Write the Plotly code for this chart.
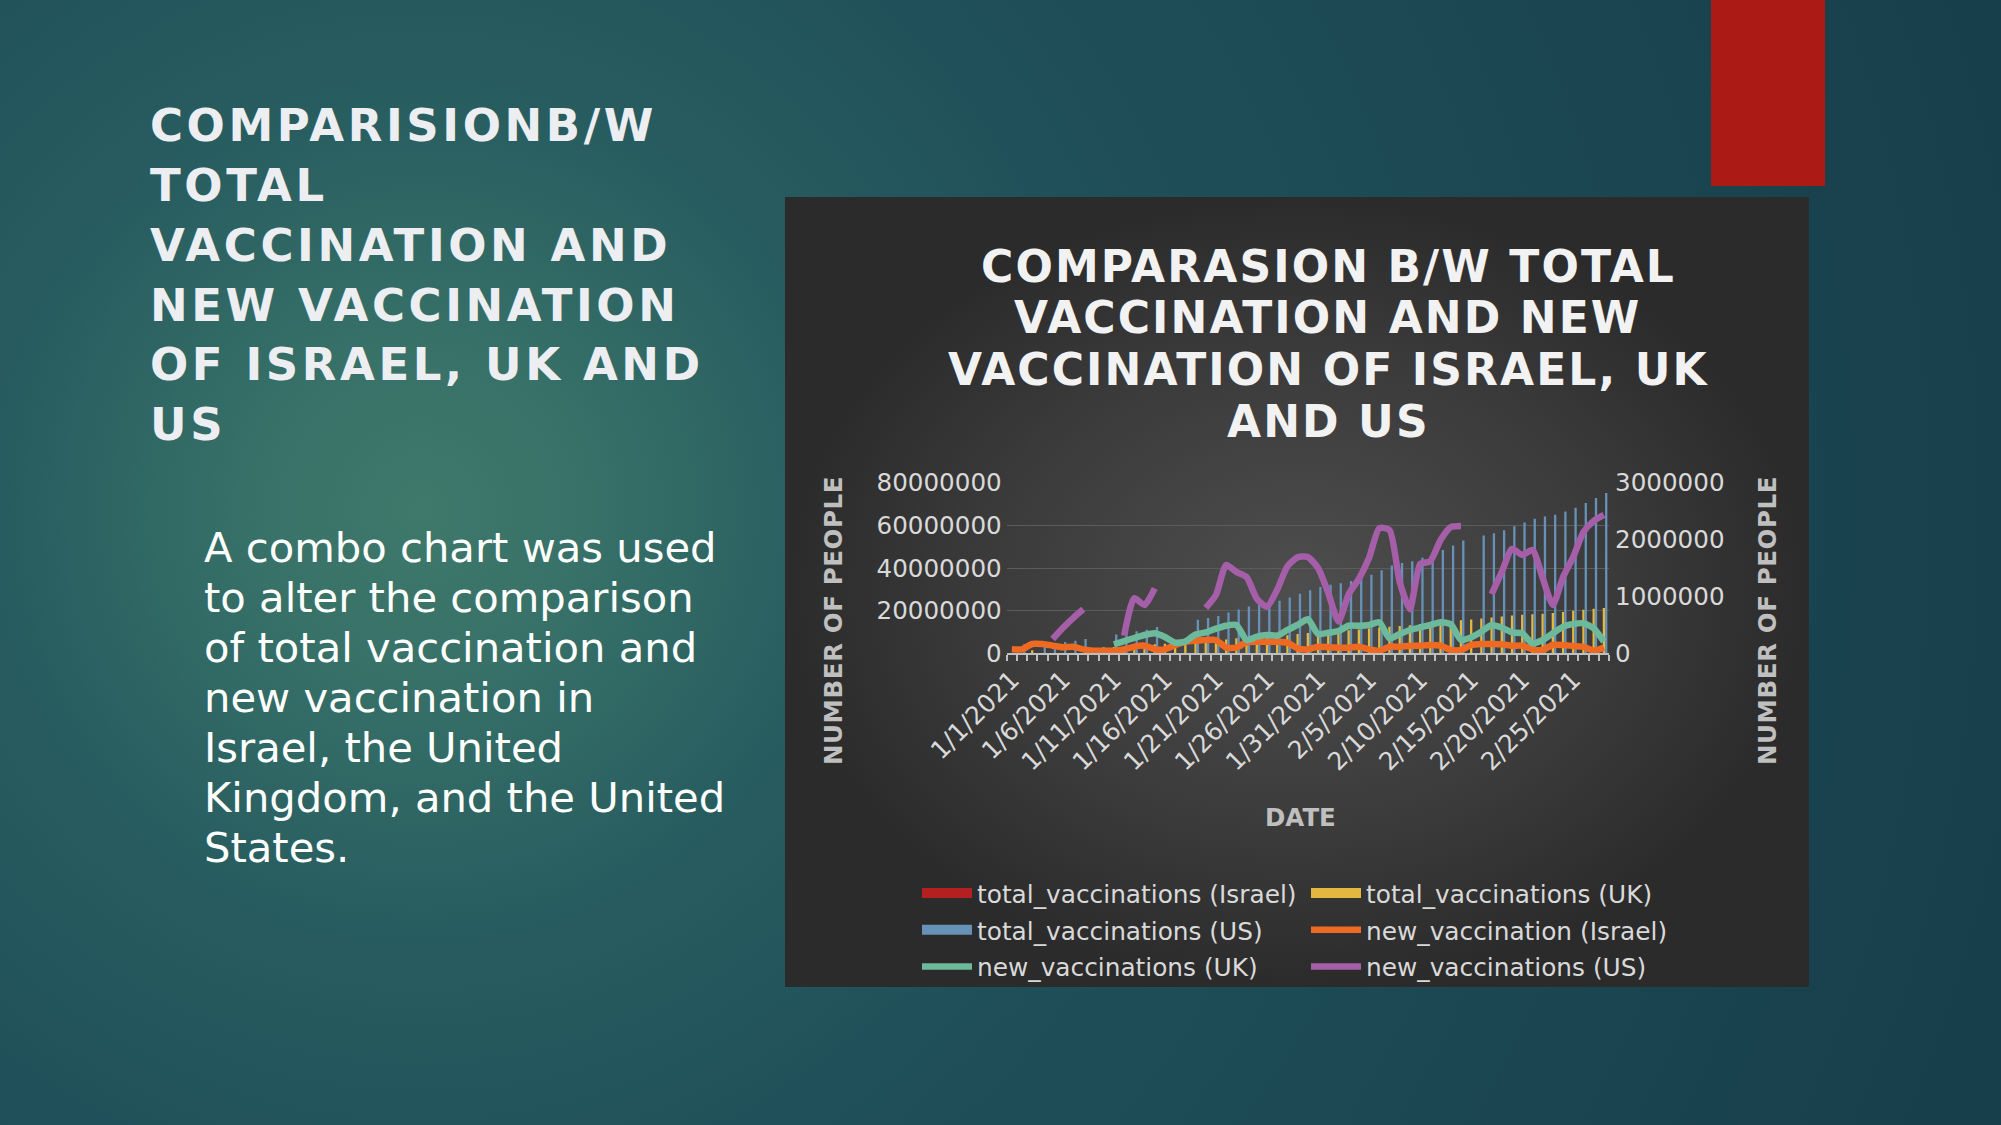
import plotly.graph_objects as go

# ---------------- data ----------------
dates = [f"1/{d}/2021" for d in range(1, 32)] + [f"2/{d}/2021" for d in range(1, 29)]

israel_total = [None] * 59

uk_total = [None, None, 1400000, None, None, None, None, None, None, 2800000,
            3000000, 3200000, 3500000, 3800000, 4200000, 4500000, 4700000, 4900000, 5200000, 5600000,
            6000000, 6500000, 7000000, 7200000, 7500000, 7800000, 8100000, 8500000, 9000000, 9500000,
            9800000, 10100000, 10400000, 10800000, 11200000, 11600000, 12100000, 12400000, 12800000, 13200000,
            13700000, 14200000, 14700000, 15200000, 15500000, 15900000, 16300000, 16800000, 17300000, 17700000,
            18100000, 18300000, 18600000, 18900000, 19400000, 19900000, 20400000, 20900000, 21200000]

us_total = [None, 4200000, None, 4600000, 4800000, 5300000, 5900000, 6700000, None, None,
            8800000, 9300000, 10300000, 11100000, 12300000, None, None, None, 15700000, 16500000,
            17500000, 19100000, 20500000, 21900000, 22700000, 23500000, 24700000, 26200000, 27900000, 29600000,
            31100000, 32200000, 32800000, 33900000, 35200000, 36800000, 39000000, 41200000, 42400000, 43200000,
            44800000, 46400000, 48400000, 50600000, 52900000, None, 55200000, 56300000, 57700000, 59600000,
            61300000, 63100000, 64200000, 65000000, 66500000, 68300000, 70500000, 72800000, 75200000]

israel_new = [70000, 70000, 164000, 164000, 134000, 106000, 116000, 70000, 46000, 46000,
              46000, 70000, 116000, 134000, 70000, 70000, 146000, 204000, 222000, 234000,
              234000, 100000, 100000, 195000, 204000, 204000, 204000, 186000, 88000, 70000,
              116000, 106000, 99000, 99000, 116000, 70000, 46000, 116000, 116000, 134000,
              134000, 146000, 134000, 58000, 58000, 146000, 164000, 164000, 158000, 134000,
              134000, 70000, 58000, 146000, 146000, 128000, 116000, 46000, 100000]

uk_new = [None, None, None, None, None, None, None, None, None, None,
          158000, 216000, 269000, 322000, 352000, 287000, 186000, 208000, 331000, 369000,
          433000, 485000, 498000, 234000, 292000, 322000, 310000, 410000, 498000, 598000,
          339000, 362000, 392000, 485000, 485000, 498000, 545000, 264000, 339000, 410000,
          457000, 498000, 545000, 510000, 234000, 281000, 380000, 498000, 450000, 369000,
          352000, 176000, 234000, 352000, 468000, 515000, 528000, 440000, 204000]

us_new = [None, None, None, None, 251000, 445000, 620000, 774000, None, None,
          None, 310000, 967000, 850000, 1143000, None, None, None, None, 800000,
          1025000, 1553000, 1430000, 1340000, 960000, 820000, 1120000, 1530000, 1690000, 1695000,
          1500000, 1060000, 560000, 1040000, 1310000, 1680000, 2199000, 2169000, 1250000, 775000,
          1570000, 1620000, 1993000, 2220000, 2239000, None, None, 1040000, 1430000, 1835000,
          1730000, 1817000, 1325000, 850000, 1342000, 1694000, 2134000, 2327000, 2433000]

left_ticks = [0, 20000000, 40000000, 60000000, 80000000]
right_ticks = [0, 1000000, 2000000, 3000000]

slide_title = ["COMPARISIONB/W", "TOTAL", "VACCINATION AND", "NEW VACCINATION",
               "OF ISRAEL, UK AND", "US"]
body_lines = ["A combo chart was used", "to alter the comparison", "of total vaccination and",
              "new vaccination in", "Israel, the United", "Kingdom, and the United", "States."]
chart_title = ["COMPARASION B/W TOTAL", "VACCINATION AND NEW", "VACCINATION OF ISRAEL, UK",
               "AND US"]

FONT = "DejaVu Sans"
W, H = 2001, 1125

fig = go.Figure()


def box(x0, y0, x1, y1):
    return [x0, x1, x1, x0, x0], [y0, y0, y1, y1, y0]


# ---------------- slide decoration (background subplot, pixel coords) ----------------
bx, by = box(421 - 1650, 510 - 1650, 421 + 1650, 510 + 1650)
fig.add_trace(go.Scatter(x=bx, y=by, mode="lines", line=dict(width=0), fill="toself",
                         fillgradient=dict(type="radial",
                                           colorscale=[[0, "#3F796B"], [0.1, "#377168"], [0.25, "#285D60"],
                                                       [0.45, "#1F4F59"], [1, "#173E4B"]]),
                         hoverinfo="skip", showlegend=False, xaxis="x", yaxis="y"))
px_, py_ = box(785, 197, 1809, 987)
fig.add_trace(go.Scatter(x=px_, y=py_, mode="lines", line=dict(width=0), fill="toself",
                         fillgradient=dict(type="radial",
                                           colorscale=[[0, "#4E4E4E"], [0.6, "#3B3B3B"], [1, "#2B2B2B"]]),
                         hoverinfo="skip", showlegend=False, xaxis="x", yaxis="y"))
rx, ry = box(1711, 0, 1825, 186)
fig.add_trace(go.Scatter(x=rx, y=ry, mode="lines", line=dict(width=0), fill="toself",
                         fillcolor="#AC1A16", hoverinfo="skip", showlegend=False, xaxis="x", yaxis="y"))

# ---------------- chart ----------------
bar_specs = [
    ("total_vaccinations (Israel)", israel_total, "#B3201F", "legend"),
    ("total_vaccinations (UK)", uk_total, "#E2B93E", "legend2"),
    ("total_vaccinations (US)", us_total, "#6791B6", "legend"),
]
for name, vals, col, lg in bar_specs:
    fig.add_trace(go.Bar(x=dates, y=vals, name=name, marker=dict(color=col, line=dict(width=0)),
                         xaxis="x2", yaxis="y2", showlegend=False, legendgroup=name,
                         hoverinfo="x+y+name"))
# legend keys for the column series (wide rectangles like the original legend)
for name, vals, col, lg in bar_specs:
    fig.add_trace(go.Scatter(x=[dates[0]], y=[None], name=name, mode="lines",
                             line=dict(color=col, width=15), xaxis="x2", yaxis="y2",
                             legend=lg, legendgroup=name, hoverinfo="skip"))

line_specs = [
    ("new_vaccination (Israel)", israel_new, "#EE6A22", "legend2"),
    ("new_vaccinations (UK)", uk_new, "#6CB99B", "legend"),
    ("new_vaccinations (US)", us_new, "#A55EA8", "legend2"),
]
for name, vals, col, lg in line_specs:
    fig.add_trace(go.Scatter(x=dates, y=vals, name=name, mode="lines",
                             line=dict(color=col, width=6.5, shape="spline", smoothing=0.6),
                             xaxis="x2", yaxis="y3", legend=lg, legendgroup=name))

# ---------------- text ----------------
ann = []
for k, t in enumerate(slide_title):
    ann.append(dict(x=148, y=125.9 + 59.7 * k, xref="x", yref="y", xanchor="left", yanchor="middle",
                    text=f'<span style="letter-spacing:3.6px">{t}</span>', showarrow=False,
                    font=dict(family=FONT, size=45, color="#EDEEF1", weight="bold")))
for k, t in enumerate(body_lines):
    ann.append(dict(x=202, y=547.4 + 49.98 * k, xref="x", yref="y", xanchor="left", yanchor="middle",
                    text=t, showarrow=False, font=dict(family=FONT, size=41.7, color="#FFFFFF")))
for k, t in enumerate(chart_title):
    ann.append(dict(x=1328, y=266 + 51.7 * k, xref="x", yref="y", xanchor="center", yanchor="middle",
                    text=f'<span style="letter-spacing:2.1px">{t}</span>', showarrow=False,
                    font=dict(family=FONT, size=44, color="#F2F2F2", weight="bold")))
for xx in (833, 1767):
    ann.append(dict(x=xx, y=621, xref="x", yref="y", xanchor="center", yanchor="middle", textangle=-90,
                    text='<span style="letter-spacing:0.6px">NUMBER OF PEOPLE</span>', showarrow=False,
                    font=dict(family=FONT, size=24.5, color="#BFBFBF", weight="bold")))
ann.append(dict(x=1300, y=817, xref="x", yref="y", xanchor="center", yanchor="middle",
                text="DATE", showarrow=False, font=dict(family=FONT, size=24.5, color="#BFBFBF", weight="bold")))

tick_font = dict(family=FONT, size=24.6, color="#D9D9D9")
legend_common = dict(orientation="v", xanchor="left", yanchor="top", bgcolor="rgba(0,0,0,0)",
                     font=dict(family=FONT, size=24.8, color="#D9D9D9"), itemwidth=50,
                     traceorder="grouped", tracegroupgap=1.5)

fig.update_layout(
    width=W, height=H, margin=dict(l=0, r=0, t=0, b=0, pad=0, autoexpand=False),
    paper_bgcolor="#1E4D57", plot_bgcolor="rgba(0,0,0,0)",
    barmode="group", bargap=0.32, bargroupgap=0,
    showlegend=True,
    xaxis=dict(domain=[0, 1], range=[0, W], visible=False, fixedrange=True, automargin=False),
    yaxis=dict(domain=[0, 1], range=[H, 0], visible=False, fixedrange=True, automargin=False),
    xaxis2=dict(domain=[1006.7 / W, 1609 / W], anchor="y2", type="category", range=[-0.5, 58.5],
                tickmode="array", tickvals=dates,
                ticktext=[d if i % 5 == 0 else "" for i, d in enumerate(dates)],
                tickson="boundaries", ticks="outside", ticklen=6, tickcolor="#BFBFBF", tickwidth=1.5,
                showline=True, linecolor="#BFBFBF", linewidth=1.5, tickangle=-45,
                tickfont=dict(family=FONT, size=25, color="#D9D9D9"), showgrid=False, fixedrange=True,
                automargin=False),
    yaxis2=dict(domain=[(H - 653.3) / H, (H - 482.7) / H], anchor="x2", range=[0, 80000000],
                tickmode="array", tickvals=left_ticks, ticktext=[str(v) for v in left_ticks],
                showgrid=True, gridcolor="#5C5C5C", gridwidth=1.2, zeroline=False, showline=False,
                ticks="", tickfont=tick_font, ticklabelstandoff=4, fixedrange=True, automargin=False),
    yaxis3=dict(overlaying="y2", side="right", anchor="x2", range=[0, 3000000],
                tickmode="array", tickvals=right_ticks, ticktext=[str(v) for v in right_ticks],
                showgrid=False, zeroline=False, showline=False, ticks="", tickfont=tick_font,
                ticklabelstandoff=5, fixedrange=True, automargin=False),
    legend=dict(x=917 / W, y=(H - 870.5) / H, **legend_common),
    legend2=dict(x=1306 / W, y=(H - 870.5) / H, **legend_common),
    annotations=ann,
)

fig.write_html("out.html", config={"displayModeBar": False},
               post_script="document.body.style.margin='0';document.body.style.overflow='hidden';")
